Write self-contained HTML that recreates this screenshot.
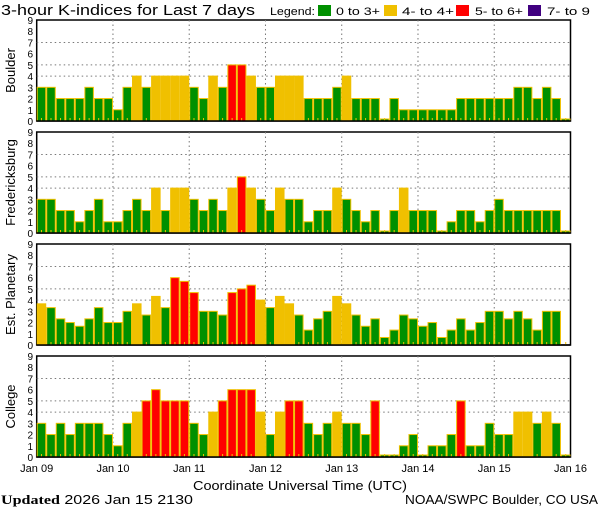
<!DOCTYPE html>
<html><head><meta charset="utf-8"><style>
body{margin:0;background:#fff;width:600px;height:510px;overflow:hidden}
svg{display:block;font-family:"Liberation Sans",sans-serif}
</style></head><body>
<svg id="chart" width="600" height="510" viewBox="0 0 600 510" xmlns="http://www.w3.org/2000/svg">
<text x="1" y="15" font-size="15" fill="#000" textLength="254" lengthAdjust="spacingAndGlyphs">3-hour K-indices for Last 7 days</text>
<g font-size="11">
<text x="270" y="15" textLength="45" lengthAdjust="spacingAndGlyphs">Legend:</text>
<rect x="318" y="5" width="13" height="11" fill="#009000"/>
<text x="336" y="15" textLength="44" lengthAdjust="spacingAndGlyphs">0 to 3+</text>
<rect x="384" y="5" width="13" height="11" fill="#f0c000"/>
<text x="402" y="15" textLength="52" lengthAdjust="spacingAndGlyphs">4- to 4+</text>
<rect x="456" y="5" width="13" height="11" fill="#ff0000"/>
<text x="475" y="15" textLength="48" lengthAdjust="spacingAndGlyphs">5- to 6+</text>
<rect x="528" y="5" width="13" height="11" fill="#400080"/>
<text x="547" y="15" textLength="43" lengthAdjust="spacingAndGlyphs">7- to 9</text>
</g>
<g id="panels"></g>
<text x="193" y="490" font-size="13" textLength="214" lengthAdjust="spacingAndGlyphs">Coordinate Universal Time (UTC)</text>
<text x="1" y="504" font-size="13" textLength="192" lengthAdjust="spacingAndGlyphs"><tspan font-family="Liberation Serif" font-weight="bold">Updated</tspan> 2026 Jan 15 2130</text>
<text x="405" y="504" font-size="13" textLength="193" lengthAdjust="spacingAndGlyphs">NOAA/SWPC Boulder, CO USA</text>
</svg>
<script>
const stations = ["Boulder","Fredericksburg","Est. Planetary","College"];
const dayLabels = ["Jan 09","Jan 10","Jan 11","Jan 12","Jan 13","Jan 14","Jan 15","Jan 16"];
const yTicks = [0,1,2,3,4,5,6,7,8,9];
const boulder = [3,3,2,2,2,3,2,2, 1,3,4,3,4,4,4,4, 3,2,4,3,5,5,4,3, 3,4,4,4,2,2,2,3, 4,2,2,2,0,2,1,1, 1,1,1,1,2,2,2,2, 2,2,3,3,2,3,2,0];
const fredericksburg = [3,3,2,2,1,2,3,1, 1,2,3,2,4,2,4,4, 3,2,3,2,4,5,4,3, 2,4,3,3,1,2,2,4, 3,2,1,2,0,2,4,2, 2,2,0,1,2,2,1,2, 3,2,2,2,2,2,2,0];
const planetary = [3.67,3.33,2.33,2,1.67,2.33,3.33,2, 2,3,3.67,2.67,4.33,3.33,6,5.67, 4.67,3,3,2.67,4.67,5,5.33,4, 3.33,4.33,3.67,2.67,1.33,2.33,3,4.33, 3.67,2.67,1.67,2.33,0.67,1.33,2.67,2.33, 1.67,2,0.67,1.33,2.33,1.33,2,3, 3,2.33,3,2.33,1.33,3,3,null];
const college = [3,2,3,2,3,3,3,2, 1,3,4,5,6,5,5,5, 3,2,4,5,6,6,6,4, 2,4,5,5,3,2,3,4, 3,3,2,5,0,0,1,2, 0,1,1,2,5,1,1,3, 2,2,4,4,3,4,3,0];
const series = [boulder,fredericksburg,planetary,college];

const NS="http://www.w3.org/2000/svg";
const X0=36.7, X1=570.5, N=56, PH=101;
const tops=[20,132,244,356];
const bw=(X1-X0)/N;
function xPos(i){return X0+i*bw;}
function mk(tag,attrs,parent){const e=document.createElementNS(NS,tag);for(const k in attrs)e.setAttribute(k,attrs[k]);parent.appendChild(e);return e;}
function color(v){return v>=6.67?"#400080":v>=4.67?"#ff0000":v>=3.67?"#f0c000":"#009000";}
const root=document.getElementById("panels");
stations.forEach((name,p)=>{
  const top=tops[p], bot=top+PH;
  const yPos=v=>bot-v*PH/9;
  const g=mk("g",{},root);
  
  
  const frame=mk("rect",{x:X0,y:top,width:X1-X0,height:PH,fill:"#fff",stroke:"#000","stroke-width":1.5},g);
  
  
  [4,5,7].forEach(v=>{
    const l=mk("line",{x1:X0,x2:X1,y1:yPos(v),y2:yPos(v),stroke:"#777","stroke-dasharray":"1.5,3"},g);
    
    
  });
  for(let d=1;d<7;d++){
    const l=mk("line",{x1:xPos(d*8),x2:xPos(d*8),y1:top,y2:bot,stroke:"#777","stroke-dasharray":"1.5,3"},g);
    
    
  }
  series[p].forEach((v,i)=>{
    if(v===null)return;
    const h=Math.max(v*PH/9,2);
    const r=mk("rect",{x:xPos(i)+0.5,y:bot-h,width:bw-1,height:h,fill:color(v),stroke:"#f0c000","stroke-width":1},g);
    
    
  });
  series[p].forEach((v,i)=>{
    const t=mk("rect",{x:xPos(i)+bw/2-0.5,y:bot-3,width:1,height:3,fill:"#f0c000"},g);
    
    
  });
  mk("line",{x1:X0,x2:X1,y1:bot,y2:bot,stroke:"#000","stroke-width":1.5},g);
  yTicks.forEach(v=>{
    const t=mk("text",{x:33,y:yPos(v)+4,"font-size":10,"text-anchor":"end"},g);
    t.textContent=v;
    
    
  });
  const lab=mk("text",{x:0,y:0,"font-size":13,"text-anchor":"middle",transform:`translate(15,${top+PH/2}) rotate(-90)`},g);
  lab.textContent=name;
  
  
});
dayLabels.forEach((d,i)=>{
  const t=mk("text",{x:xPos(i*8),y:472,"font-size":11,"text-anchor":"middle"},root);
  t.textContent=d;
  
  
});
</script>
</body></html>
